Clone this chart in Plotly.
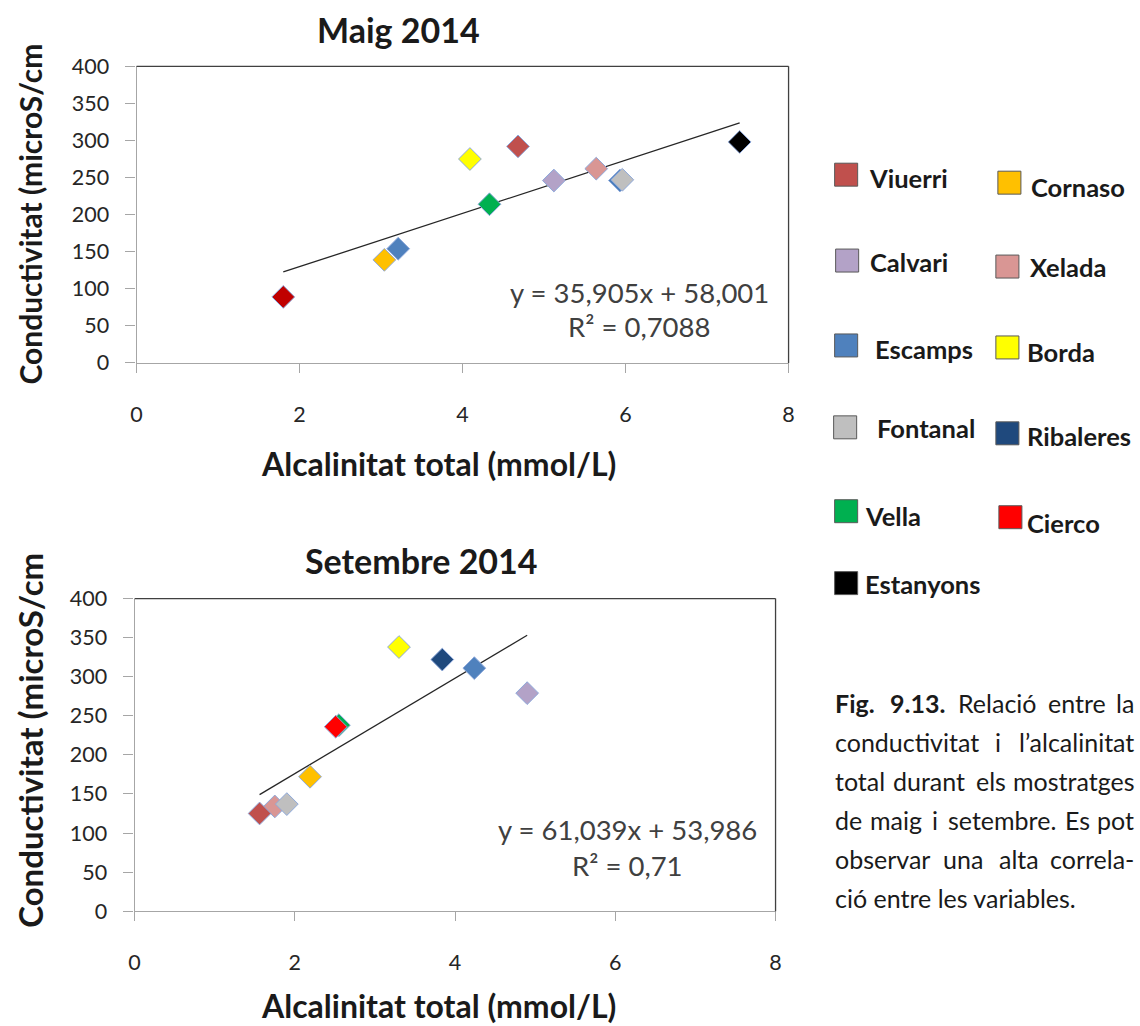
import plotly.graph_objects as go

FONT = "Lato"
W, H = 1140, 1026

# ---------------- data ----------------
stations_may = ["Cierco", "Escamps", "Cornaso", "Borda", "Vella", "Viuerri",
                "Calvari", "Xelada", "Ribaleres", "Fontanal", "Estanyons"]
alk_may = [1.80, 3.21, 3.04, 4.09, 4.33, 4.68, 5.12, 5.64, 5.93, 5.96, 7.40]
cond_may = [89, 154, 139, 275, 214, 292, 246, 262, 246, 247, 298]

stations_sep = ["Xelada", "Viuerri", "Fontanal", "Cornaso", "Vella", "Cierco",
                "Borda", "Ribaleres", "Escamps", "Calvari"]
alk_sep = [1.75, 1.56, 1.90, 2.19, 2.55, 2.51, 3.30, 3.84, 4.24, 4.90]
cond_sep = [134, 125, 137, 172, 238, 236, 338, 322, 311, 279]

trend_may = [35.905, 58.001]   # slope, intercept
trend_sep = [61.039, 53.986]
eq_may = ["y = 35,905x + 58,001", "R² = 0,7088"]
eq_sep = ["y = 61,039x + 53,986", "R² = 0,71"]

x_ticks = [0, 2, 4, 6, 8]
y_ticks = [0, 50, 100, 150, 200, 250, 300, 350, 400]

legend_names = ["Viuerri", "Cornaso", "Calvari", "Xelada", "Escamps", "Borda",
                "Fontanal", "Ribaleres", "Vella", "Cierco", "Estanyons"]

titles = ["Maig 2014", "Setembre 2014"]
x_title = "Alcalinitat total (mmol/L)"
y_title = "Conductivitat (microS/cm"

caption_lines = [
    ["<b>Fig.</b>", "<b>9.13.</b>", "Relació", "entre", "la"],
    ["conductivitat", "i", "l’alcalinitat"],
    ["total", "durant", "els", "mostratges"],
    ["de", "maig", "i", "setembre.", "Es", "pot"],
    ["observar", "una", "alta", "correla-"],
    ["ció entre les variables."],
]

# ---------------- styles ----------------
colors = {
    "Viuerri": "#C0504D", "Cornaso": "#FFC000", "Calvari": "#B3A2C7",
    "Xelada": "#D99694", "Escamps": "#4F81BD", "Borda": "#FFFF00",
    "Fontanal": "#BFBFBF", "Ribaleres": "#1F497D", "Vella": "#00B050",
    "Cierco": "#FF0000", "Estanyons": "#000000",
}
may_colors = dict(colors, Cierco="#C00000", Ribaleres="#4A7EBB")

# picture-space -> page-space correction (measured from previous renders)
SX, OX = 0.988, 5.6
SY, OY = 0.976, 13.6


def tx(x):
    return (x - OX) / SX


def ty(y):
    return (y - OY) / SY


def px(x):
    return tx(x) / W


def py(y):
    return 1 - ty(y) / H


fig = go.Figure()

# plot areas in pixels: (left, right, top, bottom)
areas = [(136, 787, 67, 364), (134, 774, 600, 913)]
datasets = [
    (stations_may, alk_may, cond_may, trend_may, may_colors),
    (stations_sep, alk_sep, cond_sep, trend_sep, colors),
]

for i, ((l, r, t, b), (st, xs, ys, tr, cmap)) in enumerate(zip(areas, datasets)):
    xa = "x" if i == 0 else "x2"
    ya = "y" if i == 0 else "y2"
    x0, x1 = min(xs), max(xs)
    fig.add_trace(go.Scatter(
        x=[x0, x1], y=[tr[0] * x0 + tr[1], tr[0] * x1 + tr[1]],
        mode="lines", line=dict(color="#262626", width=1.3),
        xaxis=xa, yaxis=ya, showlegend=False, hoverinfo="skip"))
    fig.add_trace(go.Scatter(
        x=xs, y=ys, mode="markers", text=st,
        marker=dict(symbol="diamond", size=17.5,
                    color=[cmap[s] for s in st],
                    line=dict(color="#8EA9DB", width=1)),
        xaxis=xa, yaxis=ya, showlegend=False))
    axkw = dict(showgrid=False, zeroline=False, showline=True,
                linecolor="#A6A6A6", linewidth=1.3, ticks="outside",
                tickcolor="#A6A6A6", tickwidth=1.3,
                tickfont=dict(family=FONT, size=21.5, color="#262626"))
    xkey = "xaxis" if i == 0 else "xaxis2"
    ykey = "yaxis" if i == 0 else "yaxis2"
    fig.update_layout(**{
        xkey: dict(axkw, domain=[px(l), px(r)], range=[0, 8],
                   tickvals=x_ticks, ticklen=9, ticklabelstandoff=23,
                   anchor=ya),
        ykey: dict(axkw, domain=[py(b), py(t)], range=[0, 400],
                   tickvals=y_ticks, ticklen=10, ticklabelstandoff=12,
                   anchor=xa),
    })
    # dark top and right border of plot area
    fig.add_shape(type="line", xref="paper", yref="paper",
                  x0=px(l), x1=px(r), y0=py(t), y1=py(t),
                  line=dict(color="#404040", width=1.3))
    fig.add_shape(type="line", xref="paper", yref="paper",
                  x0=px(r), x1=px(r), y0=py(t), y1=py(b),
                  line=dict(color="#404040", width=1.3))

# titles / axis titles / equations
ann = []
title_pos = [(398, 30), (420, 562)]
xt_pos = [(437, 465), (437, 1007)]
yt_pos = [(30, 215), (30, 742)]
yt_size = [30, 33]
eq_pos = [[(638, 293), (638, 328)], [(626, 831), (626, 867)]]
for i in range(2):
    ann.append(dict(text="<b>%s</b>" % titles[i], x=px(title_pos[i][0]),
                    y=py(title_pos[i][1]), font=dict(size=34, color="#1a1a1a")))
    ann.append(dict(text="<b>%s</b>" % x_title, x=px(xt_pos[i][0]),
                    y=py(xt_pos[i][1]), font=dict(size=32, color="#1a1a1a")))
    ann.append(dict(text="<b>%s</b>" % y_title, x=px(yt_pos[i][0]),
                    y=py(yt_pos[i][1]), textangle=-90,
                    font=dict(size=yt_size[i], color="#1a1a1a")))
    eqs = eq_may if i == 0 else eq_sep
    for txt, (ex, ey) in zip(eqs, eq_pos[i]):
        ann.append(dict(text=txt, x=px(ex), y=py(ey),
                        font=dict(size=27.5, color="#404040")))

# legend (manual grid)
leg_pos = {
    "Viuerri": ((833, 164), (865, 179)),
    "Cornaso": ((996, 172), (1027, 188)),
    "Calvari": ((834, 250), (866, 263)),
    "Xelada": ((994, 256), (1026, 268)),
    "Escamps": ((833, 335), (871, 350)),
    "Borda": ((994, 337), (1023, 353)),
    "Fontanal": ((832, 417), (873, 429)),
    "Ribaleres": ((994, 423), (1023, 437)),
    "Vella": ((833, 501), (861, 517)),
    "Cierco": ((997, 507), (1023, 524)),
    "Estanyons": ((833, 573), (861, 585)),
}
for name in legend_names:
    (sx, sy), (lx, ly) = leg_pos[name]
    fig.add_shape(type="rect", xref="paper", yref="paper",
                  x0=px(sx), x1=px(sx + 23), y0=py(sy), y1=py(sy + 23),
                  fillcolor=colors[name], line=dict(color="#595959", width=1))
    ann.append(dict(text="<b>%s</b>" % name, x=px(lx), y=py(ly),
                    xanchor="left", font=dict(size=25.5, color="#1a1a1a")))

# caption (justified)
CAP = 25
narrow = {"i": .23, "l": .23, "j": .23, "t": .33, "f": .3, ".": .25, ",": .25,
          "’": .23, "-": .33, "r": .36, "s": .4, "m": .83, "w": .75,
          " ": .19, "ó": .55, "e": .52, "a": .49, "c": .45}


def wwidth(word):
    bold = word.startswith("<b>")
    w = word.replace("<b>", "").replace("</b>", "")
    tot = 0
    for ch in w:
        if ch in narrow:
            tot += narrow[ch]
        elif ch.isdigit():
            tot += .58
        elif ch.isupper():
            tot += .6
        else:
            tot += .55
    return tot * CAP * (1.06 if bold else 1)


L0, R0 = tx(831), tx(1134)   # page-space pixels
for k, words in enumerate(caption_lines):
    yy = py(705 + 39 * k)
    if len(words) == 1:
        ann.append(dict(text=words[0], x=L0 / W, y=yy, xanchor="left",
                        font=dict(size=CAP, color="#1a1a1a")))
        continue
    widths = [wwidth(w) for w in words]
    gap = (R0 - L0 - sum(widths)) / (len(words) - 1)
    cur = L0
    for j, (w, wd) in enumerate(zip(words, widths)):
        if j == 0:
            xa_, xx = "left", L0
        elif j == len(words) - 1:
            xa_, xx = "right", R0
        else:
            xa_, xx = "center", cur + wd / 2
        ann.append(dict(text=w, x=xx / W, y=yy, xanchor=xa_,
                        font=dict(size=CAP, color="#1a1a1a")))
        cur += wd + gap

for a in ann:
    a.setdefault("xanchor", "center")
    a.update(xref="paper", yref="paper", showarrow=False, yanchor="middle")

fig.update_layout(
    annotations=ann, width=W, height=H, autosize=False,
    margin=dict(l=0, r=0, t=0, b=0),
    paper_bgcolor="white", plot_bgcolor="white",
    font=dict(family=FONT, color="#1a1a1a"),
    showlegend=False,
)

fig.write_html(
    "out.html",
    config={"displayModeBar": False},
    post_script=(
        "document.documentElement.style.margin='0';"
        "document.documentElement.style.padding='0';"
        "document.documentElement.style.overflow='hidden';"
        "document.body.style.margin='0';"
        "document.body.style.padding='0';"
        "document.body.style.overflow='hidden';"
    ),
)
